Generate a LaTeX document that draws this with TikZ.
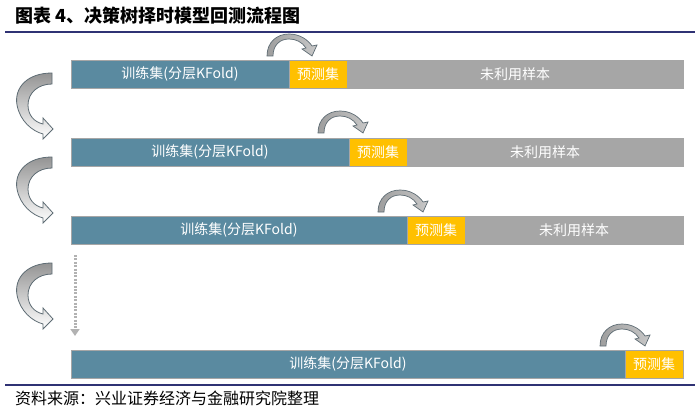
\documentclass[tikz,border=0pt]{standalone}
\usepackage{fontspec}
\newfontfamily\cjk{Noto Sans CJK SC}
\usetikzlibrary{arrows.meta,positioning}
\definecolor{barblue}{HTML}{5A8AA0}
\definecolor{baryellow}{HTML}{FFC000}
\definecolor{bargray}{HTML}{A6A6A6}
\definecolor{rulenavy}{HTML}{2F3274}
\definecolor{curlline}{HTML}{5E6C74}
\tikzset{
  trainbar/.style={draw=black!35, fill=barblue, text=white, inner sep=0pt, outer sep=0pt,
    minimum height=28pt, font=\cjk\fontsize{14}{16}\selectfont},
  testbar/.style={trainbar, fill=baryellow, minimum width=58pt},
  restbar/.style={trainbar, fill=bargray},
  headline/.style={anchor=west, inner sep=0pt, font=\cjk\bfseries\fontsize{18}{20}\selectfont},
  footline/.style={anchor=west, inner sep=0pt, font=\cjk\fontsize{16}{18}\selectfont},
  rulebar/.style={draw=rulenavy, line width=1.5pt},
  dotarrow/.style={draw=black!30, line width=3pt, dash pattern=on 2pt off 1.4pt,
    -{Triangle[length=7pt, width=9pt]}},
  % big C-shaped arrow between rows
  turnarrow/.pic={
    \shade[top color=black!42, bottom color=white, draw=curlline, line width=0.8pt]
      (0,0) .. controls (-25,0) and (-38,15) .. (-35,32)
      .. controls (-32,48) and (-20,58) .. (-9,61)
      -- (-9,66) -- (1,56) -- (-9,45) -- (-9,51)
      .. controls (-18,49) and (-24,42) .. (-24,32)
      .. controls (-24,20) and (-14,11) .. (0,11) -- cycle;
  },
  % small hop arrow over the test block
  hoparrow/.pic={
    \shade[left color=black!38, right color=black!22, draw=curlline, line width=0.7pt]
      (0,0) .. controls (0,-14) and (10,-22) .. (22,-22)
      .. controls (33,-22) and (41,-16) .. (45,-10)
      -- (50,-11) -- (45,0) -- (35,-7) -- (39,-8)
      .. controls (35,-14) and (29,-17) .. (22,-17)
      .. controls (13,-17) and (6,-11) .. (6,0) -- cycle;
  }
}

\begin{document}
\begin{tikzpicture}[x=1pt, y=-1pt]
    \useasboundingbox[fill=white] (0,0) rectangle (700,414);

    \node[headline] (title) at (15,16) {图表 4、决策树择时模型回测流程图};
    \coordinate (topl) at (5,32);
    \coordinate (topr) at (695,32);
    \draw[rulebar] (topl) -- (topr);

    % row 1
    \node[trainbar, minimum width=218pt, anchor=west] (trainA) at (71,74) {训练集(分层KFold)};
    \node[testbar, right=0pt of trainA] (testA) {预测集};
    \node[restbar, minimum width=336pt, right=0pt of testA] (restA) {未利用样本};

    % row 2
    \node[trainbar, minimum width=278pt, anchor=west] (trainB) at (71,152) {训练集(分层KFold)};
    \node[testbar, right=0pt of trainB] (testB) {预测集};
    \node[restbar, minimum width=276pt, right=0pt of testB] (restB) {未利用样本};

    % row 3
    \node[trainbar, minimum width=336pt, anchor=west] (trainC) at (71,230) {训练集(分层KFold)};
    \node[testbar, right=0pt of trainC] (testC) {预测集};
    \node[restbar, minimum width=218pt, right=0pt of testC] (restC) {未利用样本};

    % last row
    \node[trainbar, minimum width=554pt, anchor=west] (trainD) at (71,364) {训练集(分层KFold)};
    \node[testbar, right=0pt of trainD] (testD) {预测集};

    % hop arrows
    \path (testA.north west) ++(-22,-4) pic {hoparrow};
    \path (testB.north west) ++(-31,-5) pic {hoparrow};
    \path (testC.north west) ++(-29,-4) pic {hoparrow};
    \path (testD.north west) ++(-25,-4) pic {hoparrow};

    % turn arrows on the left
    \path (52,73) pic {turnarrow};
    \path (52,157) pic {turnarrow};
    \path (52,263) pic {turnarrow};

    \coordinate (dotstart) at (75,255);
    \coordinate (dotend) at (75,336);
    \draw[dotarrow] (dotstart) -- (dotend);

    \coordinate (botl) at (5,385);
    \coordinate (botr) at (695,385);
    \draw[rulebar] (botl) -- (botr);
    \node[footline] (source) at (15,398) {资料来源：兴业证券经济与金融研究院整理};
\end{tikzpicture}
\end{document}
